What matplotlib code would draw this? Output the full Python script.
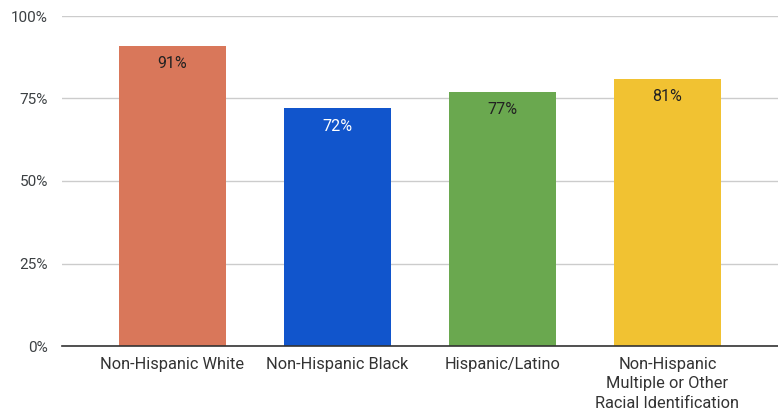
import matplotlib
matplotlib.use("Agg")
import matplotlib.pyplot as plt

categories = ["Non-Hispanic White", "Non-Hispanic Black", "Hispanic/Latino",
              "Non-Hispanic\nMultiple or Other\nRacial Identification"]
values = [91, 72, 77, 81]
value_labels = ["91%", "72%", "77%", "81%"]
colors = ["#D9775A", "#1155CC", "#6AA84F", "#F1C232"]
label_colors = ["#222222", "#FFFFFF", "#222222", "#222222"]
yticks = [0, 25, 50, 75, 100]
ytick_labels = ["0%", "25%", "50%", "75%", "100%"]

plt.rcParams['font.family'] = ['Roboto', 'DejaVu Sans']

W, H = 778, 411
fig = plt.figure(figsize=(W/100, H/100), dpi=100)
ax = fig.add_axes([62/W, (H-346)/H, (778-62)/W, (346-16)/H])

x = list(range(len(categories)))
ax.bar(x, values, width=0.65, color=colors, zorder=3)
for xi, v, lab, lc in zip(x, values, value_labels, label_colors):
    ax.annotate(lab, (xi, v), xytext=(0, -18), textcoords="offset pixels",
                ha="center", va="center", fontsize=11.5, color=lc, zorder=4)

ax.set_xlim(-0.67, 3.67)
ax.set_ylim(0, 100)
ax.set_yticks(yticks)
ax.set_yticklabels(ytick_labels, fontsize=11, color="#3c4043")
ax.set_xticks(x)
ax.set_xticklabels(categories, fontsize=11.8, color="#333333", linespacing=1.35)
ax.tick_params(axis="y", length=0, pad=10)
ax.tick_params(axis="x", length=0, pad=8)
ax.grid(axis="y", color="#CCCCCC", linewidth=1, zorder=0)
for s in ["top", "right", "left"]:
    ax.spines[s].set_visible(False)
ax.spines["bottom"].set_color("#333333")
ax.spines["bottom"].set_linewidth(1.2)
ax.spines["bottom"].set_zorder(5)

fig.savefig("out.png", dpi=100)
